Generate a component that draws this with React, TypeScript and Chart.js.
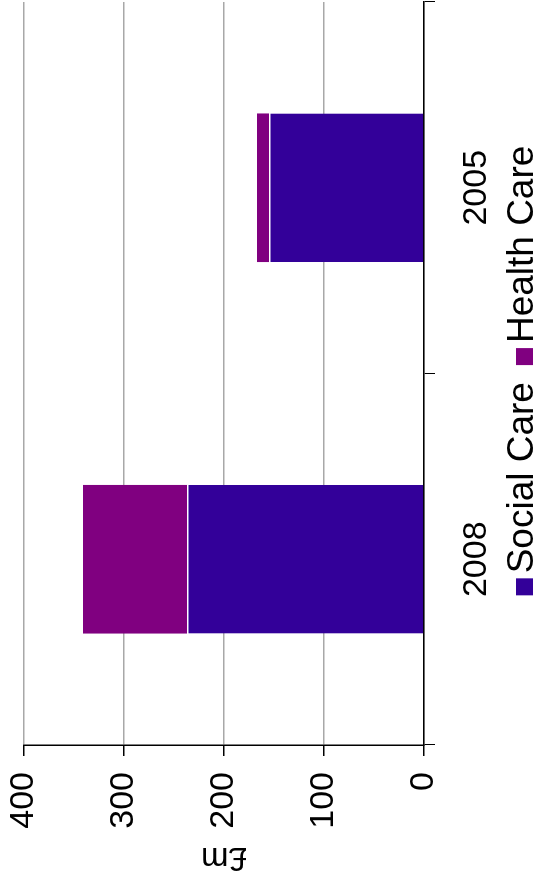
import React, { useEffect, useRef } from "react";
import { Chart, registerables } from "chart.js";

Chart.register(...registerables);

// Spending by year, £m
const years = ["2008", "2005"];
const socialCare = [237, 155];
const healthCare = [104, 12];
const seriesNames = ["Social Care", "Health Care"];
const seriesColors = ["#330099", "#800080"];
const yTicks = [0, 100, 200, 300, 400];
const yTitle = "£m";

const FONT = "'Liberation Sans', Arial, Helvetica, sans-serif";
const W = 879;
const H = 540;

// Legend drawn under the plot, centred on the plot area, with a tight box-to-text gap
const bottomLegend = {
  id: "bottomLegend",
  afterDraw(chart: any) {
    const { ctx, chartArea } = chart;
    const box = 17;
    const gap = 5;
    const spacing = 17;
    ctx.save();
    ctx.font = `37px ${FONT}`;
    const items = chart.data.datasets.map((ds: any) => ({
      label: ds.label as string,
      color: ds.backgroundColor as string,
      w: ctx.measureText(ds.label).width,
    }));
    const total =
      items.reduce((s: number, it: any) => s + box + gap + it.w, 0) +
      spacing * (items.length - 1);
    let x = (chartArea.left + chartArea.right) / 2 - total / 2 + 3;
    const baseline = chartArea.bottom + 109;
    ctx.textBaseline = "alphabetic";
    ctx.textAlign = "left";
    for (const it of items) {
      ctx.fillStyle = it.color;
      ctx.fillRect(x, baseline - box, box, box);
      x += box + gap;
      ctx.fillStyle = "#000";
      ctx.fillText(it.label, x, baseline);
      x += it.w + spacing;
    }
    ctx.restore();
  },
};

export default function App() {
  const canvasRef = useRef<HTMLCanvasElement>(null);

  useEffect(() => {
    const canvas = canvasRef.current;
    if (!canvas) return;
    const chart = new Chart(canvas, {
      type: "bar",
      data: {
        labels: years,
        datasets: [
          {
            label: seriesNames[0],
            data: socialCare,
            backgroundColor: seriesColors[0],
            borderColor: "#ffffff",
            borderWidth: { top: 1.5, left: 0, right: 0, bottom: 0 },
            borderSkipped: false,
            barPercentage: 0.4,
            categoryPercentage: 1,
          },
          {
            label: seriesNames[1],
            data: healthCare,
            backgroundColor: seriesColors[1],
            borderWidth: 0,
            barPercentage: 0.4,
            categoryPercentage: 1,
          },
        ],
      },
      options: {
        responsive: false,
        animation: false,
        devicePixelRatio: 1,
        layout: { padding: { left: 0, right: 2, top: 24, bottom: 0 } },
        plugins: {
          legend: { display: false },
          tooltip: { enabled: false },
        },
        scales: {
          x: {
            stacked: true,
            afterFit: (s: any) => {
              s.height = 116;
              s.paddingLeft = 0;
              s.paddingRight = 0;
            },
            grid: {
              drawOnChartArea: false,
              drawTicks: true,
              tickLength: 11,
              tickColor: "#000",
              color: "#000",
              offset: true,
            },
            border: { display: true, color: "#000", width: 1.5 },
            ticks: {
              color: "#000",
              font: { family: FONT, size: 34 },
              padding: 21,
              maxRotation: 0,
            },
          },
          y: {
            stacked: true,
            min: 0,
            max: 400,
            afterBuildTicks: (s: any) => {
              s.ticks = yTicks.map((v) => ({ value: v }));
            },
            afterFit: (s: any) => {
              s.width = 134;
              s.paddingTop = 0;
              s.paddingBottom = 0;
            },
            grid: {
              color: "#a8a8a8",
              lineWidth: 1.5,
              tickColor: "#000",
              tickLength: 11,
            },
            border: { display: true, color: "#000", width: 1.5 },
            ticks: {
              color: "#000",
              font: { family: FONT, size: 34 },
              padding: 16,
            },
            title: {
              display: true,
              text: yTitle,
              color: "#000",
              font: { family: FONT, size: 33 },
              padding: { top: 2, bottom: 0 },
            },
          },
        },
      },
      plugins: [bottomLegend],
    });
    return () => chart.destroy();
  }, []);

  return (
    <div
      style={{
        position: "absolute",
        left: 0,
        top: 0,
        width: H,
        height: W,
        overflow: "hidden",
        background: "#fff",
      }}
    >
      <div
        style={{
          position: "absolute",
          left: 0,
          top: 0,
          width: W,
          height: H,
          transformOrigin: "0 0",
          transform: `translateY(${W}px) rotate(-90deg)`,
        }}
      >
        <canvas ref={canvasRef} width={W} height={H} style={{ display: "block" }} />
      </div>
    </div>
  );
}
